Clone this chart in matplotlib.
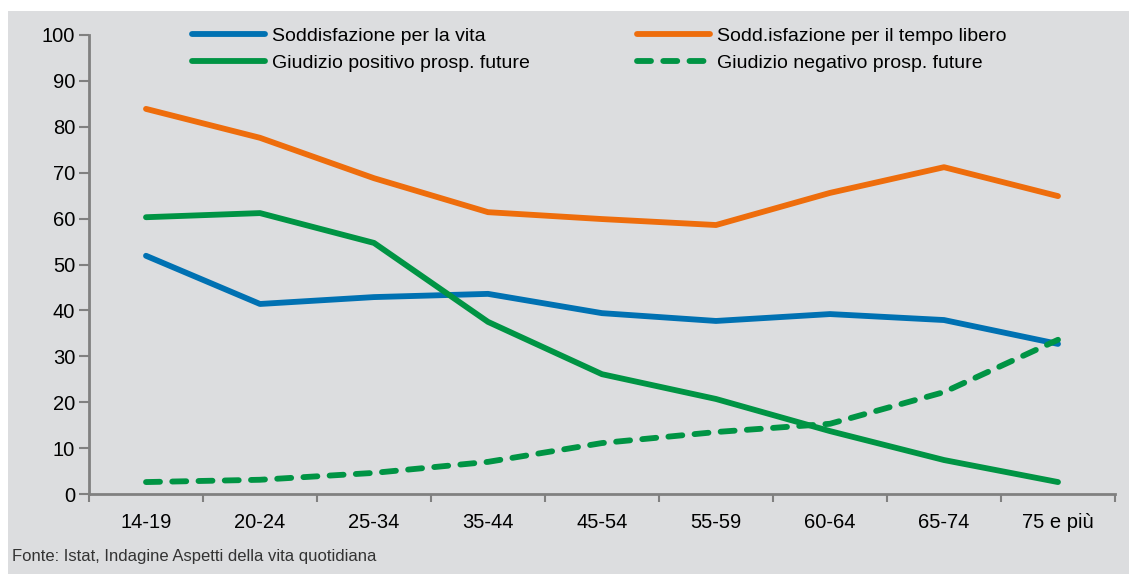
import matplotlib
matplotlib.use('Agg')
import matplotlib.pyplot as plt
from matplotlib.patches import Rectangle

# Dati
eta = ['14-19', '20-24', '25-34', '35-44', '45-54', '55-59', '60-64', '65-74', '75 e più']
sodd_vita = [51.9, 41.4, 42.9, 43.6, 39.4, 37.7, 39.2, 37.9, 32.7]
sodd_tempo = [83.9, 77.6, 68.8, 61.4, 59.9, 58.6, 65.6, 71.2, 64.9]
giud_pos = [60.3, 61.2, 54.7, 37.5, 26.1, 20.7, 13.7, 7.4, 2.6]
giud_neg = [2.6, 3.1, 4.6, 7.0, 11.1, 13.5, 15.3, 22.2, 33.6]

plt.rcParams['font.family'] = ['Liberation Sans', 'DejaVu Sans']
bg = '#dcdddf'
axcol = '#808080'

fig = plt.figure(figsize=(11.29, 5.74), dpi=100)
fig.patch.set_facecolor('white')
fig.patches.append(Rectangle((8 / 1129, 0), 1, 1 - 11 / 574, transform=fig.transFigure,
                             facecolor=bg, edgecolor='none', zorder=-5))

ax = fig.add_axes([89 / 1129, 1 - 494 / 574, (1115 - 89) / 1129, (494 - 35) / 574])
ax.set_facecolor(bg)
ax.patch.set_alpha(0)

x = list(range(len(eta)))
lw = 4.2
l1, = ax.plot(x, sodd_vita, color='#0071b2', lw=lw, solid_capstyle='round', label='Soddisfazione per la vita')
l2, = ax.plot(x, sodd_tempo, color='#ee6d0c', lw=lw, solid_capstyle='round', label='Sodd.isfazione per il tempo libero')
l3, = ax.plot(x, giud_pos, color='#009444', lw=lw, solid_capstyle='round', label='Giudizio positivo prosp. future')
l4, = ax.plot(x, giud_neg, color='#009444', lw=lw, dashes=(2.4, 2.1), dash_capstyle='round',
              label='Giudizio negativo prosp. future')

ax.set_xlim(-0.5, len(eta) - 0.5)
ax.set_ylim(0, 100)
ax.set_yticks(range(0, 101, 10))
ax.set_xticks([i - 0.5 for i in range(len(eta) + 1)])
ax.set_xticklabels([])
ax.set_xticks(x, minor=True)
ax.set_xticklabels(eta, minor=True)
ax.tick_params(axis='x', which='minor', length=0, pad=14, labelsize=14.5)
ax.tick_params(axis='x', which='major', length=6, width=1.5, color=axcol, direction='out')
ax.tick_params(axis='y', length=7, width=1.5, color=axcol, labelsize=14.5, pad=3)

for s in ['top', 'right']:
    ax.spines[s].set_visible(False)
for s in ['left', 'bottom']:
    ax.spines[s].set_color(axcol)
    ax.spines[s].set_linewidth(2)

handles = [l1, l3, l2, l4]
leg = ax.legend(handles, [h.get_label() for h in handles], ncol=2, loc='upper left',
                bbox_to_anchor=(0.1004, 1.0165), frameon=False, borderaxespad=0, borderpad=0,
                fontsize=14, handlelength=3.75, handletextpad=0.36, columnspacing=5.5,
                labelspacing=0.48)

fig.text(12 / 1129, 1 - 556 / 574, 'Fonte: Istat, Indagine Aspetti della vita quotidiana',
         fontsize=12, color='#333333', va='center',
         family=['Liberation Sans Narrow', 'Liberation Sans', 'DejaVu Sans'])

fig.savefig('out.png', dpi=100, facecolor='white')
